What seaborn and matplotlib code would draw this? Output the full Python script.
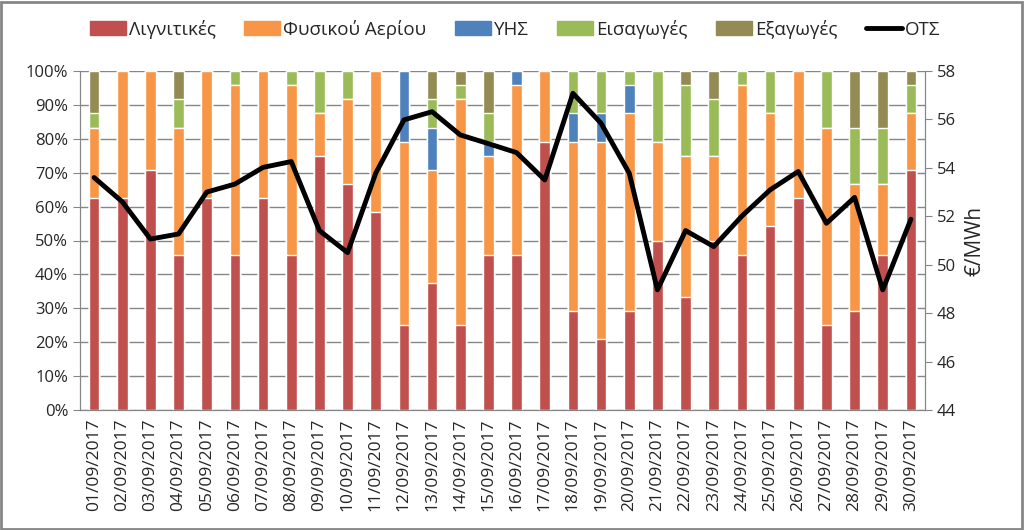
import numpy as np
import pandas as pd
import seaborn as sns
import matplotlib.pyplot as plt
from matplotlib.patches import Patch, Rectangle
from matplotlib.lines import Line2D
from matplotlib.ticker import PercentFormatter

# ώρες ανά ημέρα (από 24) για κάθε κατηγορία
dates = ["%02d/09/2017" % d for d in range(1, 31)]
lignite = [15, 15, 17, 11, 15, 11, 15, 11, 18, 16, 14, 6, 9, 6, 11,
           11, 19, 7, 5, 7, 12, 8, 12, 11, 13, 15, 6, 7, 11, 17]
gas = [5, 9, 7, 9, 9, 12, 9, 12, 3, 6, 10, 13, 8, 16, 7,
       12, 5, 12, 14, 14, 7, 10, 6, 12, 8, 9, 14, 9, 5, 4]
hydro = [0, 0, 0, 0, 0, 0, 0, 0, 0, 0, 0, 5, 3, 0, 1,
         1, 0, 2, 2, 2, 0, 0, 0, 0, 0, 0, 0, 0, 0, 0]
imports = [1, 0, 0, 2, 0, 1, 0, 1, 3, 2, 0, 0, 2, 1, 2,
           0, 0, 3, 3, 1, 5, 5, 4, 1, 3, 0, 4, 4, 4, 2]
exports = [3, 0, 0, 2, 0, 0, 0, 0, 0, 0, 0, 0, 2, 1, 3,
           0, 0, 0, 0, 0, 0, 1, 2, 0, 0, 0, 0, 4, 4, 1]
smp = [53.6, 52.6, 51.06, 51.27, 53.0, 53.33, 54.02, 54.26, 51.41, 50.5,
       53.78, 55.98, 56.32, 55.36, 55.0, 54.63, 53.5, 57.08, 55.84, 53.78,
       48.96, 51.41, 50.75, 52.01, 53.09, 53.85, 51.71, 52.78, 48.96, 51.88]

names = ["Λιγνιτικές", "Φυσικού Αερίου", "ΥΗΣ", "Εισαγωγές", "Εξαγωγές"]
colors = ["#C0504D", "#F79646", "#4F81BD", "#9BBB59", "#948A54"]

sns.set_style("white")
plt.rcParams["font.family"] = ["Open Sans", "DejaVu Sans"]

df = pd.DataFrame({"date": dates, names[0]: lignite, names[1]: gas,
                   names[2]: hydro, names[3]: imports, names[4]: exports})
shares = df[names].div(df[names].sum(axis=1), axis=0)
cum = shares.cumsum(axis=1)

fig = plt.figure(figsize=(10.24, 5.30), dpi=100)
ax = fig.add_axes([80 / 1024, 120 / 530, 845 / 1024, 339 / 530])

# στοίβαξη: ζωγραφίζουμε τα αθροιστικά από πάνω προς τα κάτω
for name, col in reversed(list(zip(names, colors))):
    sns.barplot(x=df["date"], y=cum[name], color=col, width=0.38,
                saturation=1, ax=ax, zorder=3)

ax.set_ylim(0, 1)
ax.set_xlim(-0.5, len(dates) - 0.5)
ax.yaxis.set_major_formatter(PercentFormatter(1.0, decimals=0))
ax.set_yticks(np.arange(0, 1.01, 0.1))
ax.grid(axis="y", color="#868686", lw=1, zorder=0)
ax.set_axisbelow(True)
ax.set_xlabel("")
ax.set_ylabel("")
ax.tick_params(axis="x", which="major", length=0, labelsize=12.5, rotation=90, pad=6)
ax.set_xticks(np.arange(len(dates) + 1) - 0.5, minor=True)
ax.tick_params(axis="x", which="minor", length=5, color="#868686", direction="out")
ax.tick_params(axis="y", length=5, color="#868686", labelsize=12, left=True)
ax.spines["top"].set_visible(False)
for s in ["left", "right", "bottom"]:
    ax.spines[s].set_color("#868686")

ax2 = ax.twinx()
sns.lineplot(x=np.arange(len(smp)), y=smp, color="black", lw=3.5, ax=ax2, zorder=5)
ax2.set_ylim(44, 58)
ax2.set_yticks(np.arange(44, 59, 2))
ax2.set_ylabel("€/MWh", fontsize=15, labelpad=6)
ax2.tick_params(axis="y", length=5, color="#868686", labelsize=12, right=True)
ax2.spines["top"].set_visible(False)
for s in ["left", "right", "bottom"]:
    ax2.spines[s].set_color("#868686")
ax2.set_xlim(-0.5, len(dates) - 0.5)

handles = [Patch(color=c) for c in colors] + [Line2D([], [], color="black", lw=3.5)]
fig.legend(handles, names + ["ΟΤΣ"], loc="center", bbox_to_anchor=(0.503, 0.945),
           ncol=6, frameon=False, fontsize=13.5, handlelength=1.9, handleheight=0.75,
           columnspacing=1.55, handletextpad=0.15)

fig.patches.append(Rectangle((0.001, 0.002), 0.997, 0.995, transform=fig.transFigure,
                             fill=False, edgecolor="#868686", lw=2))

fig.savefig("out.png", dpi=100)
